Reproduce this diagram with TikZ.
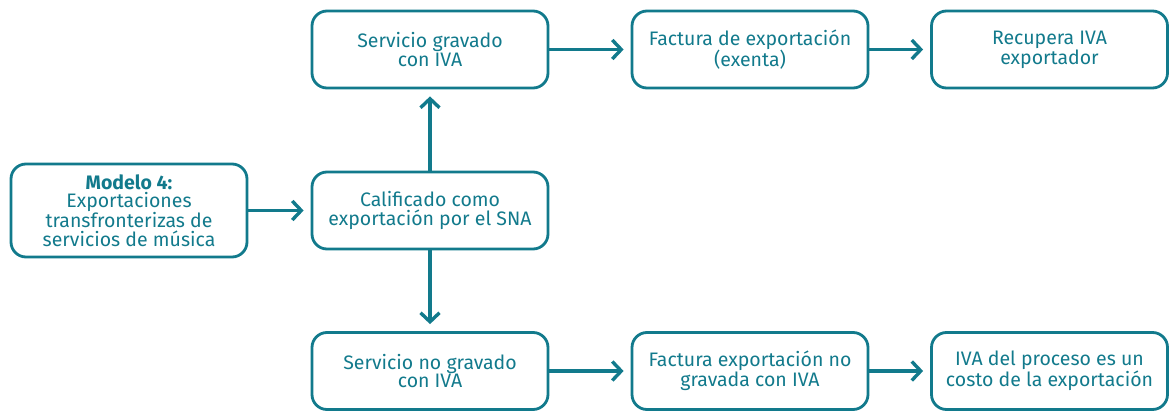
\documentclass[tikz,border=0pt]{standalone}
\usepackage{fontspec}
\setmainfont{Fira Sans}
\usetikzlibrary{arrows.meta}
\definecolor{teal}{RGB}{18,122,140}
\tikzset{
  box/.style={draw=teal, line width=2.8pt, rounded corners=15pt, minimum width=236pt, minimum height=77pt, align=center, text=teal, font=\fontsize{19.5}{18.5}\selectfont, inner sep=0pt},
  conn/.style={draw=teal, line width=3.2pt, -{Straight Barb[length=9pt,width=19pt,line width=3.4pt]}, shorten >=7pt}
}
\begin{document}
\begin{tikzpicture}[x=1pt,y=-1pt]
\useasboundingbox (0,0) rectangle (1170,412);
\node[box, minimum height=93pt] (m) at (129,210.5) {\textbf{Modelo 4:}\\Exportaciones\\transfronterizas de\\servicios de música};
\node[box] (c) at (430,210.5) {Calificado como\\exportación por el SNA};
\node[box] (s1) at (430,49.5) {Servicio gravado\\con IVA};
\node[box] (f1) at (750,49.5) {Factura de exportación\\(exenta)};
\node[box] (r1) at (1049.5,49.5) {Recupera IVA\\exportador};
\node[box] (s2) at (430,371) {Servicio no gravado\\con IVA};
\node[box] (f2) at (750,371) {Factura exportación no\\gravada con IVA};
\node[box] (r2) at (1049.5,371) {IVA del proceso es un\\costo de la exportación};
\draw[conn] (m) -- (c);
\draw[conn] (c) -- (s1);
\draw[conn] (c) -- (s2);
\draw[conn] (s1) -- (f1);
\draw[conn] (f1) -- (r1);
\draw[conn] (s2) -- (f2);
\draw[conn] (f2) -- (r2);
\end{tikzpicture}
\end{document}
